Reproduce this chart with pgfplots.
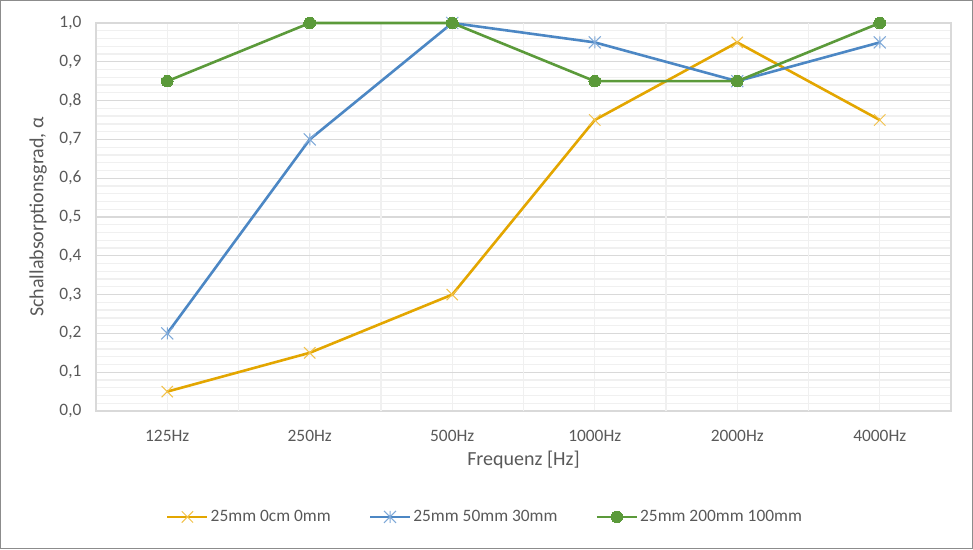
\documentclass[border=0pt]{standalone}
\usepackage{fontspec}
\setmainfont{Carlito}
\usepackage{pgfplots}
\pgfplotsset{compat=1.18}
\definecolor{cOr}{HTML}{E3A600}
\definecolor{cOrM}{HTML}{F2C14A}
\definecolor{cBl}{HTML}{4C87C4}
\definecolor{cBlM}{HTML}{7FA9D8}
\definecolor{cGr}{HTML}{5B9A3A}
\definecolor{txt}{HTML}{595959}
\definecolor{gmaj}{HTML}{D9D9D9}
\definecolor{gmin}{HTML}{F0F0F0}
\pgfdeclareplotmark{xstar}{%
 \pgfpathmoveto{\pgfqpoint{-.7071\pgfplotmarksize}{-.7071\pgfplotmarksize}}%
 \pgfpathlineto{\pgfqpoint{.7071\pgfplotmarksize}{.7071\pgfplotmarksize}}%
 \pgfpathmoveto{\pgfqpoint{-.7071\pgfplotmarksize}{.7071\pgfplotmarksize}}%
 \pgfpathlineto{\pgfqpoint{.7071\pgfplotmarksize}{-.7071\pgfplotmarksize}}%
 \pgfpathmoveto{\pgfqpoint{0pt}{-.7071\pgfplotmarksize}}%
 \pgfpathlineto{\pgfqpoint{0pt}{.7071\pgfplotmarksize}}%
 \pgfusepathqstroke}
\begin{document}
\begin{tikzpicture}[x=1pt,y=1pt]
\useasboundingbox (0,0) rectangle (973,549);
\draw[line width=1.2pt, draw=black!45] (0.6,0.6) rectangle (972.4,548.4);
\begin{axis}[
  at={(96pt,138pt)}, anchor=south west,
  scale only axis, width=855pt, height=388pt,
  xmin=-0.5, xmax=5.5, ymin=0, ymax=1,
  xtick={0,1,2,3,4,5},
  xticklabels={125Hz,250Hz,500Hz,1000Hz,2000Hz,4000Hz},
  extra x ticks={0.5,1.5,2.5,3.5,4.5},
  extra x tick labels={},
  extra x tick style={grid=major, major grid style={draw=gmaj, line width=1.3pt}},
  xmajorgrids,
  ytick={0,0.1,...,1.0},
  minor y tick num=4,
  ymajorgrids, yminorgrids,
  x grid style={draw=gmin, line width=1.3pt},
  y grid style={draw=gmaj, line width=1.3pt},
  minor y grid style={draw=gmin, line width=1.3pt},
  /pgf/number format/use comma,
  /pgf/number format/fixed,
  /pgf/number format/fixed zerofill,
  /pgf/number format/precision=1,
  /pgf/number format/assume math mode=true,
  major tick length=0pt, minor tick length=0pt,
  axis line style={draw=gmaj, line width=1.3pt},
  tick label style={font=\fontsize{17.4}{20}\selectfont, text=txt},
  xticklabel style={yshift=-16pt},
  yticklabel style={xshift=-11pt},
  xlabel={Frequenz [Hz]},
  ylabel={Schallabsorptionsgrad, α},
  label style={font=\fontsize{20}{23}\selectfont, text=txt},
  xlabel style={at={(axis description cs:0.5,-0.1263)}, anchor=center},
  ylabel style={at={(axis description cs:-0.0678,0.5)}, anchor=center},
  legend columns=3,
  legend style={at={(axis description cs:0.455,-0.273)}, anchor=center, draw=none, fill=none,
    font=\fontsize{17.4}{20}\selectfont, text=txt,
    /tikz/every even column/.append style={column sep=36pt}},
  legend image code/.code={\draw[mark repeat=2,mark phase=2,#1] plot coordinates {(0pt,0pt) (20pt,0pt) (40pt,0pt)};},
  clip=false,
]
\addplot[cOr, line width=2.6pt, mark=x, mark size=8pt, mark options={solid, draw=cOrM, line width=1pt}]
  coordinates {(0,0.05) (1,0.15) (2,0.30) (3,0.75) (4,0.95) (5,0.75)};
\addlegendentry{25mm 0cm 0mm}
\addplot[cBl, line width=2.6pt, mark=xstar, mark size=8.5pt, mark options={solid, draw=cBlM, line width=1pt}]
  coordinates {(0,0.20) (1,0.70) (2,1.00) (3,0.95) (4,0.85) (5,0.95)};
\addlegendentry{25mm 50mm 30mm}
\addplot[cGr, line width=2.6pt, mark=*, mark size=5.8pt, mark options={solid, fill=cGr, draw=cGr, line width=0pt}]
  coordinates {(0,0.85) (1,1.00) (2,1.00) (3,0.85) (4,0.85) (5,1.00)};
\addlegendentry{25mm 200mm 100mm}
\end{axis}
\end{tikzpicture}
\end{document}
